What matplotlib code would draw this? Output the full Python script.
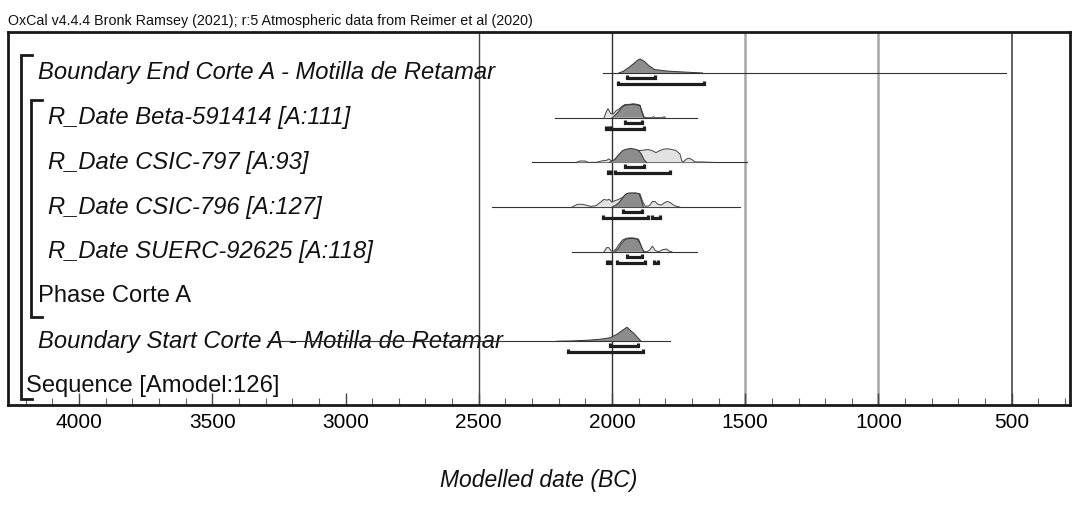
import matplotlib
matplotlib.use("Agg")
import matplotlib.pyplot as plt
import matplotlib.transforms as mtransforms
import numpy as np

plt.rcParams['font.family'] = ['Liberation Sans', 'DejaVu Sans']

# ---------------- data ----------------
header = "OxCal v4.4.4 Bronk Ramsey (2021); r:5 Atmospheric data from Reimer et al (2020)"
xlabel = "Modelled date (BC)"

row_labels = [
    "Boundary End Corte A - Motilla de Retamar",
    "R_Date Beta-591414 [A:111]",
    "R_Date CSIC-797 [A:93]",
    "R_Date CSIC-796 [A:127]",
    "R_Date SUERC-92625 [A:118]",
    "Phase Corte A",
    "Boundary Start Corte A - Motilla de Retamar",
    "Sequence [Amodel:126]",
]
row_italic = [True, True, True, True, True, False, True, False]
row_indent = [1, 2, 2, 2, 2, 1, 1, 0]

# baseline ranges (years BC)
baseline_ranges = {
    0: (2034, 523),
    1: (2214, 1680),
    2: (2300, 1492),
    3: (2451, 1519),
    4: (2150, 1680),
    6: (3290, 1782),
}

# prior (unmodelled) likelihoods - light
prior_years = {
    1: [2030, 2022, 2015, 2005, 1996, 1985, 1975, 1960, 1950, 1935, 1920, 1905, 1895, 1888, 1880, 1870,
        1850, 1845, 1840, 1810, 1805, 1800],
    2: [2135, 2120, 2100, 2090, 2060, 2040, 2020, 2012, 2005, 1995, 1985, 1970, 1955, 1940, 1925, 1910,
        1895, 1880, 1865, 1850, 1835, 1820, 1805, 1790, 1775, 1760, 1745, 1738, 1732, 1720, 1710, 1700,
        1690, 1680, 1660, 1620],
    3: [2150, 2130, 2110, 2090, 2080, 2060, 2040, 2030, 2020, 2010, 2000, 1990, 1975, 1960, 1945, 1930,
        1910, 1895, 1885, 1875, 1860, 1848, 1838, 1828, 1815, 1800, 1790, 1780, 1765, 1745],
    4: [2030, 2020, 2012, 2003, 1995, 1985, 1975, 1960, 1945, 1930, 1915, 1900, 1892, 1884, 1870, 1860,
        1848, 1838, 1825, 1810, 1795, 1785, 1775],
}
prior_dens = {
    1: [0, 0.4, 0.65, 0.3, 0.25, 0.5, 0.6, 0.85, 0.95, 0.95, 1.0, 0.95, 0.9, 0.5, 0.05, 0,
        0, 0.08, 0, 0, 0.08, 0],
    2: [0, 0.1, 0.1, 0, 0, 0.1, 0.15, 0.25, 0.15, 0.1, 0.3, 0.55, 0.85, 0.9, 0.92, 0.88,
        0.85, 0.88, 0.92, 0.85, 0.7, 0.85, 0.95, 0.97, 0.92, 0.85, 0.6, 0.1, 0.05, 0.25, 0.3, 0.2,
        0.05, 0.03, 0.03, 0],
    3: [0, 0.2, 0.2, 0.1, 0.05, 0.1, 0.4, 0.55, 0.5, 0.55, 0.35, 0.45, 0.55, 0.7, 0.95, 1.0,
        1.0, 0.95, 0.4, 0.05, 0.1, 0.4, 0.4, 0.2, 0.15, 0.35, 0.4, 0.3, 0.1, 0],
    4: [0, 0.3, 0.3, 0.05, 0.05, 0.2, 0.5, 0.85, 0.97, 1.0, 0.98, 0.9, 0.5, 0.05, 0, 0.1,
        0.4, 0.1, 0, 0.15, 0.2, 0.05, 0],
}

# posterior (modelled) distributions - dark
post_years = {
    0: [1975, 1960, 1940, 1920, 1905, 1895, 1880, 1860, 1840, 1800, 1760, 1720, 1680, 1660],
    1: [2000, 1990, 1975, 1960, 1950, 1935, 1920, 1905, 1895, 1888, 1880],
    2: [2010, 2000, 1990, 1975, 1960, 1945, 1930, 1915, 1900, 1890, 1880, 1870],
    3: [2000, 1985, 1975, 1962, 1950, 1940, 1925, 1910, 1898, 1890, 1882],
    4: [1990, 1978, 1965, 1950, 1935, 1920, 1905, 1895, 1888, 1880],
    6: [2207, 2146, 2083, 2040, 2007, 1981, 1944, 1915, 1891],
}
post_dens = {
    0: [0, 0.1, 0.35, 0.65, 0.9, 1.0, 0.85, 0.5, 0.25, 0.15, 0.1, 0.06, 0.02, 0],
    1: [0, 0.15, 0.45, 0.8, 0.9, 0.92, 0.95, 0.9, 0.85, 0.4, 0],
    2: [0, 0.1, 0.2, 0.55, 0.85, 0.95, 1.0, 0.95, 0.85, 0.6, 0.2, 0],
    3: [0, 0.15, 0.3, 0.6, 0.9, 1.0, 1.0, 1.0, 0.95, 0.5, 0],
    4: [0, 0.2, 0.6, 0.9, 0.95, 0.95, 0.9, 0.6, 0.3, 0],
    6: [0, 0.02, 0.08, 0.15, 0.25, 0.5, 1.0, 0.5, 0],
}

# highest posterior density ranges
hpd68 = {
    0: [(1944, 1839)],
    1: [(1951, 1887)],
    2: [(1951, 1880)],
    3: [(1959, 1887)],
    4: [(1944, 1887)],
    6: [(2007, 1902)],
}
hpd95 = {
    0: [(1977, 1654)],
    1: [(2023, 2012), (2005, 1880)],
    2: [(2015, 2004), (1989, 1782)],
    3: [(2034, 1865), (1850, 1820)],
    4: [(2019, 2008), (1981, 1876), (1842, 1827)],
    6: [(2165, 1883)],
}

major_ticks = [4000, 3500, 3000, 2500, 2000, 1500, 1000, 500]
minor_ticks = list(range(4200, 200, -100))
grid_years = [2500, 2000, 1500, 1000, 500]
grid_colors = ['#444444', '#333333', '#a8a8a8', '#a8a8a8', '#555555']
grid_widths = [1.0, 1.0, 1.8, 1.8, 1.3]

# ---------------- figure ----------------
W, H = 1072, 509
fig = plt.figure(figsize=(W / 100, H / 100), dpi=100)
ax_left, ax_right, ax_top, ax_bot = 8, 1070, 32, 405
ax = fig.add_axes([ax_left / W, 1 - ax_bot / H, (ax_right - ax_left) / W, (ax_bot - ax_top) / H])

row_px = 44.7
row0_px = 73
ax.set_xlim(4267, 281)
ax.set_ylim((ax_bot - row0_px) / row_px, (ax_top - row0_px) / row_px)

for sp in ax.spines.values():
    sp.set_linewidth(2.0)
    sp.set_color('#1a1a1a')

for yr, c, lw in zip(grid_years, grid_colors, grid_widths):
    ax.axvline(yr, color=c, lw=lw, zorder=1)

hscale = 14 / row_px
offs68 = 5 / row_px
offs95 = 11 / row_px
tick_h = 3 / row_px

for r, (a, b) in baseline_ranges.items():
    ax.plot([a, b], [r, r], color='#333333', lw=0.8, zorder=9 if r == 6 else 2)

for r in prior_years:
    x = np.array(prior_years[r], float)
    h = np.array(prior_dens[r], float) * hscale
    ax.fill_between(x, r, r - h, facecolor='#e2e2e2', edgecolor='none', zorder=3)
    ax.plot(x, r - h, color='#444444', lw=0.7, zorder=4)

for r in post_years:
    x = np.array(post_years[r], float)
    h = np.array(post_dens[r], float) * hscale
    ax.fill_between(x, r, r - h, facecolor='#8c8c8c', edgecolor='none', zorder=5)
    ax.plot(x, r - h, color='#333333', lw=0.7, zorder=6)

def bracket(segments, y):
    for a, b in segments:
        ax.plot([a, a, b, b], [y - tick_h, y, y, y - tick_h], color='#1e1e1e', lw=2.3,
                solid_joinstyle='miter', solid_capstyle='butt', zorder=7)

for r, segs in hpd68.items():
    bracket(segs, r + offs68)
for r, segs in hpd95.items():
    bracket(segs, r + offs95)

# labels
trans = mtransforms.blended_transform_factory(ax.transAxes, ax.transData)
indent_px = {0: 26, 1: 38, 2: 48}
for i, lab in enumerate(row_labels):
    xf = (indent_px[row_indent[i]] - ax_left) / (ax_right - ax_left)
    ax.text(xf, i, lab, transform=trans, ha='left', va='center', fontsize=17.1,
            style='italic' if row_italic[i] else 'normal', color='#111111', zorder=8)

# structure brackets
def struct_bracket(x_px, x2_px, y_top_px, y_bot_px):
    xf1 = (x_px - ax_left) / (ax_right - ax_left)
    xf2 = (x2_px - ax_left) / (ax_right - ax_left)
    yt = (y_top_px - row0_px) / row_px
    yb = (y_bot_px - row0_px) / row_px
    ax.plot([xf2, xf1, xf1, xf2], [yt, yt, yb, yb], transform=trans, color='#1a1a1a', lw=2.0,
            solid_joinstyle='miter', zorder=8, clip_on=False)

struct_bracket(21, 32, 55, 399)
struct_bracket(31, 42, 100, 317)

# axis ticks
ax.set_xticks(major_ticks)
ax.set_xticklabels([str(t) for t in major_ticks])
ax.set_xticks(minor_ticks, minor=True)
ax.set_yticks([])
ax.tick_params(axis='x', which='major', direction='in', length=9, width=1, color='#444444',
               labelsize=15, pad=6, top=False)
ax.tick_params(axis='x', which='minor', direction='in', length=5, width=0.8, color='#666666', top=False)

fig.text((ax_left + ax_right) / 2 / W, 1 - 480 / H, xlabel, ha='center', va='center', fontsize=16.5,
         style='italic', color='#111111')
fig.text(ax_left / W, 1 - 21 / H, header, ha='left', va='center', fontsize=10.3, color='#111111')

fig.savefig("out.png", dpi=100)
